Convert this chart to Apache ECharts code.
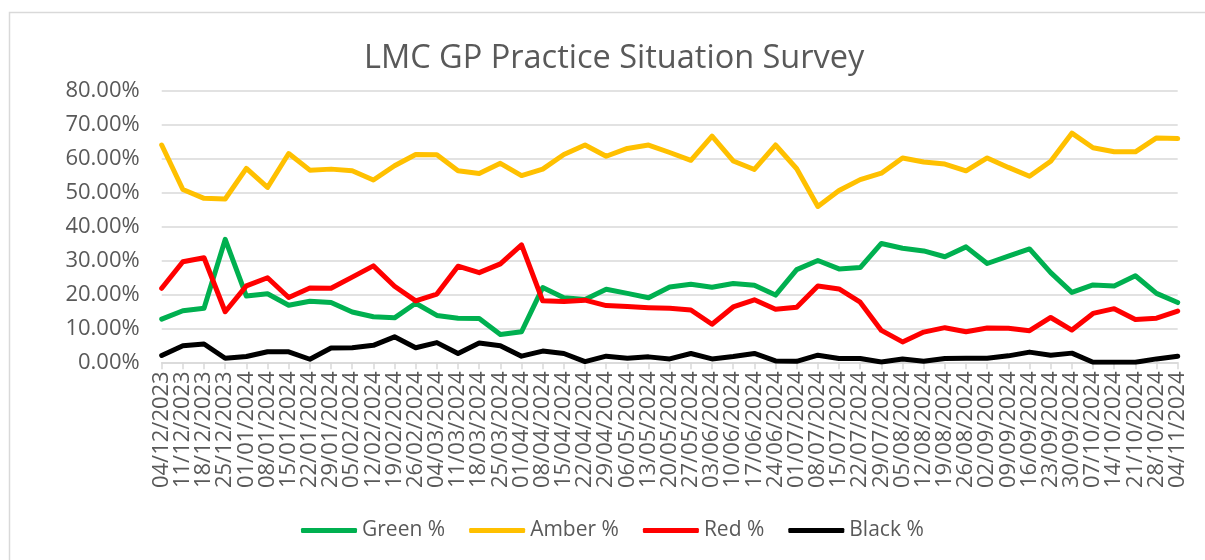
<!DOCTYPE html>
<html>
<head>
<meta charset="utf-8">
<script src="https://cdn.jsdelivr.net/npm/echarts@6/dist/echarts.min.js"></script>
<style>
html,body{margin:0;padding:0;background:#fff;}
#chart{width:1205px;height:560px;}
</style>
</head>
<body>
<div id="chart"></div>
<script>
const categories = ["04/12/2023","11/12/2023","18/12/2023","25/12/2023","01/01/2024","08/01/2024","15/01/2024","22/01/2024","29/01/2024","05/02/2024","12/02/2024","19/02/2024","26/02/2024","04/03/2024","11/03/2024","18/03/2024","25/03/2024","01/04/2024","08/04/2024","15/04/2024","22/04/2024","29/04/2024","06/05/2024","13/05/2024","20/05/2024","27/05/2024","03/06/2024","10/06/2024","17/06/2024","24/06/2024","01/07/2024","08/07/2024","15/07/2024","22/07/2024","29/07/2024","05/08/2024","12/08/2024","19/08/2024","26/08/2024","02/09/2024","09/09/2024","16/09/2024","23/09/2024","30/09/2024","07/10/2024","14/10/2024","21/10/2024","28/10/2024","04/11/2024"];

const greenPct = [12.7,15.2,15.9,36.2,19.5,20.2,16.8,18.0,17.6,14.8,13.4,13.1,17.4,13.8,13.0,12.9,8.2,9.0,22.0,19.0,18.5,21.5,20.3,19.0,22.2,23.0,22.1,23.2,22.7,19.8,27.3,30.0,27.5,27.9,35.0,33.6,32.8,31.1,34.0,29.1,31.3,33.4,26.4,20.6,22.8,22.5,25.5,20.3,17.6];

const amberPct = [64.0,50.9,48.3,48.1,57.1,51.5,61.5,56.6,56.9,56.4,53.7,57.9,61.2,61.1,56.4,55.6,58.6,55.0,56.9,61.2,64.0,60.7,63.0,64.0,61.8,59.5,66.6,59.3,56.8,64.0,57.0,45.9,50.6,53.8,55.7,60.2,59.0,58.4,56.4,60.2,57.4,54.8,59.2,67.5,63.2,62.0,62.0,66.1,65.9];

const redPct = [21.8,29.6,30.8,14.9,22.5,24.9,19.1,21.9,21.8,25.1,28.4,22.4,18.1,20.1,28.3,26.4,29.0,34.6,18.1,17.9,18.3,16.7,16.4,16.1,15.9,15.4,11.2,16.3,18.4,15.6,16.2,22.5,21.6,17.7,9.4,6.0,8.9,10.2,9.0,10.1,10.0,9.3,13.2,9.5,14.4,15.8,12.6,13.0,15.1];

const blackPct = [2.0,4.9,5.4,1.2,1.7,3.1,3.1,0.9,4.2,4.3,5.0,7.5,4.3,5.8,2.6,5.7,4.9,1.8,3.3,2.6,0.2,1.8,1.2,1.6,1.0,2.6,1.0,1.7,2.6,0.4,0.3,2.1,1.1,1.1,0.1,1.0,0.3,1.1,1.2,1.2,1.9,3.0,2.1,2.7,0.0,0.0,0.0,1.0,1.8];

const yTicks = [0,10,20,30,40,50,60,70,80];

const FONT = '"Open Sans", "Noto Sans", sans-serif';
const TXT = '#595959';

function mkSeries(name, data, color) {
  return {
    name: name,
    type: 'line',
    data: data,
    symbol: 'none',
    showSymbol: false,
    lineStyle: { color: color, width: 5, cap: 'round', join: 'round' },
    itemStyle: { color: color },
    emphasis: { disabled: true },
    animation: false
  };
}

const chart = echarts.init(document.getElementById('chart'), null, { renderer: 'canvas' });
chart.setOption({
  animation: false,
  backgroundColor: '#ffffff',
  textStyle: { fontFamily: FONT },
  title: {
    text: 'LMC GP Practice Situation Survey',
    left: 359,
    top: 37,
    textStyle: { fontFamily: FONT, fontSize: 32.5, fontWeight: 'normal', color: TXT }
  },
  graphic: [{
    type: 'rect',
    left: 7, top: 10,
    shape: { x: 0, y: 0, width: 1210, height: 560 },
    style: { fill: 'none', stroke: '#d9d9d9', lineWidth: 1.5 },
    silent: true
  }],
  legend: {
    bottom: 14,
    left: 296,
    icon: 'roundRect',
    itemWidth: 56,
    itemHeight: 5,
    itemGap: 24,
    textStyle: { fontFamily: FONT, fontSize: 21, color: TXT },
    data: ['Green %', 'Amber %', 'Red %', 'Black %']
  },
  grid: { left: 161.7, right: 27.3, top: 90.7, height: 271.6, containLabel: false },
  xAxis: {
    type: 'category',
    data: categories,
    boundaryGap: false,
    axisLine: { show: true, lineStyle: { color: '#d9d9d9', width: 1.5 } },
    axisTick: { show: true, alignWithLabel: true, length: 7, lineStyle: { color: '#d9d9d9', width: 1.5 } },
    axisLabel: { interval: 0, rotate: 90, margin: 9, fontFamily: FONT, fontSize: 22, color: TXT },
    splitLine: { show: false }
  },
  yAxis: {
    type: 'value',
    min: yTicks[0],
    max: yTicks[yTicks.length - 1],
    interval: 10,
    axisLine: { show: false },
    axisTick: { show: false },
    axisLabel: {
      margin: 22,
      fontFamily: FONT, fontSize: 22, color: TXT,
      formatter: function (v) { return v.toFixed(2) + '%'; }
    },
    splitLine: { show: true, lineStyle: { color: '#d9d9d9', width: 1.5 } }
  },
  series: [
    mkSeries('Green %', greenPct, '#00B050'),
    mkSeries('Amber %', amberPct, '#FFC000'),
    mkSeries('Red %', redPct, '#FF0000'),
    mkSeries('Black %', blackPct, '#000000')
  ]
});
</script>
</body>
</html>
